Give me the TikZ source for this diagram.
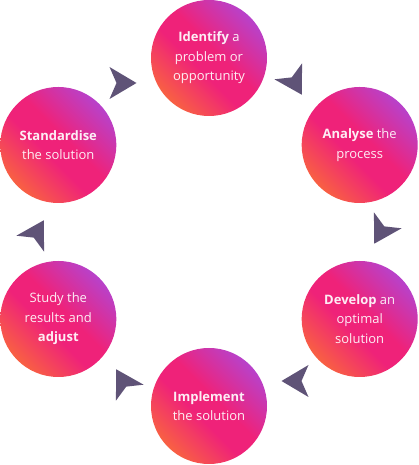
\documentclass[tikz,border=0pt]{standalone}
\usepackage{fontspec}
\setmainfont{Open Sans}
\definecolor{stageOrange}{HTML}{FA6A3A}
\definecolor{stagePink}{HTML}{EF2279}
\definecolor{stagePurple}{HTML}{B046D6}
\definecolor{chevronGrey}{HTML}{5F5377}
\pgfdeclareverticalshading{stageshade}{100bp}{color(0bp)=(stageOrange); color(22bp)=(stageOrange); color(44bp)=(stagePink); color(54bp)=(stagePink); color(78bp)=(stagePurple); color(100bp)=(stagePurple)}
\tikzset{
  stage/.style={circle, minimum size=116pt, inner sep=0pt, align=center,
    shading=stageshade, shading angle=-45, text=white, text opacity=0.92,
    font=\fontsize{13}{19.5}\selectfont},
  chevron/.style={fill=chevronGrey}
}

\begin{document}
\begin{tikzpicture}[x=1pt,y=1pt]
\useasboundingbox (0,0) rectangle (418,465);
% the six stages
\node[stage] (identify) at (209,407) {\textbf{Identify} a\\problem or\\opportunity};
\node[stage] (analyse) at (359.7,320) {\textbf{Analyse} the\\process};
\node[stage] (develop) at (359.7,146) {\textbf{Develop} an\\optimal\\solution};
\node[stage] (implement) at (209,59) {\textbf{Implement}\\the solution};
\node[stage] (study) at (58.3,146) {Study the\\results and\\\textbf{adjust}};
\node[stage] (standardise) at (58.3,320) {\textbf{Standardise}\\the solution};

% chevrons between the stages
\fill[chevron, shift={(123,382)}, rotate=0] (13.5,0) -- (-13.5,16) -- (-6.5,0) -- (-13.5,-16) -- cycle;
\fill[chevron, shift={(295,382)}, rotate=-60] (13.5,0) -- (-13.5,16) -- (-6.5,0) -- (-13.5,-16) -- cycle;
\fill[chevron, shift={(381,233)}, rotate=-120] (13.5,0) -- (-13.5,16) -- (-6.5,0) -- (-13.5,-16) -- cycle;
\fill[chevron, shift={(295,84)}, rotate=180] (13.5,0) -- (-13.5,16) -- (-6.5,0) -- (-13.5,-16) -- cycle;
\fill[chevron, shift={(123,84)}, rotate=120] (13.5,0) -- (-13.5,16) -- (-6.5,0) -- (-13.5,-16) -- cycle;
\fill[chevron, shift={(37,233)}, rotate=60] (13.5,0) -- (-13.5,16) -- (-6.5,0) -- (-13.5,-16) -- cycle;
\end{tikzpicture}
\end{document}
